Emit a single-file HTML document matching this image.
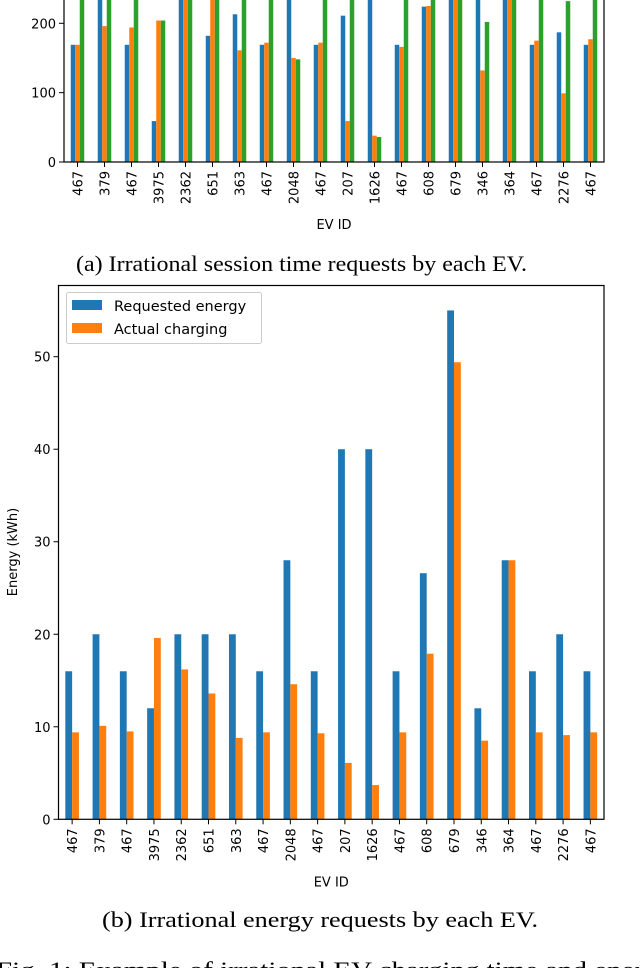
<!DOCTYPE html>
<html><head><meta charset="utf-8"><style>
html,body{margin:0;padding:0;background:#fff;}
svg{display:block;}
text{font-family:"DejaVu Sans","Liberation Sans",sans-serif;fill:#000;}
.cap{font-family:"Liberation Serif",serif;font-size:22px;}
</style></head><body>
<svg id="s" width="640" height="968" viewBox="0 0 640 968">
<text class="cap" x="76" y="271" textLength="451" lengthAdjust="spacingAndGlyphs">(a) Irrational session time requests by each EV.</text>
<text class="cap" x="102" y="927" textLength="436" lengthAdjust="spacingAndGlyphs">(b) Irrational energy requests by each EV.</text>
<text class="cap" x="-4" y="977" textLength="648" lengthAdjust="spacingAndGlyphs">Fig. 1: Example of irrational EV charging time and ener</text>
</svg>
<script>
const categories = ["467","379","467","3975","2362","651","363","467","2048","467","207","1626","467","608","679","346","364","467","2276","467"];
const timeBlue = [169,300,169,59,300,182,213,169,300,169,211,300,169,224,300,300,300,169,187,169];
const timeOrange = [169,196,194,204,300,300,161,172,150,172,59,38,166,225,300,132,300,175,99,177];
const timeGreen = [300,300,300,204,300,300,300,300,148,300,300,36,300,300,300,202,300,300,232,300];
const timeTicks = [0,100,200];
const energyRequested = [16,20,16,12,20,20,20,16,28,16,40,40,16,26.6,55,12,28,16,20,16];
const energyActual = [9.4,10.1,9.5,19.6,16.2,13.6,8.8,9.4,14.6,9.3,6.1,3.7,9.4,17.9,49.4,8.5,28,9.4,9.1,9.4];
const energyTicks = [0,10,20,30,40,50];

const NS="http://www.w3.org/2000/svg";
const svg=document.getElementById('s');
function mk(tag,attrs,parent){const e=document.createElementNS(NS,tag);for(const k in attrs)e.setAttribute(k,attrs[k]);(parent||svg).appendChild(e);return e;}
const COL=['#1f77b4','#ff7f0e','#2ca02c'];

function chart(o){
  const g=mk('g',{});
  
  
  const clipId=o.name+'-clip';
  const cp=mk('clipPath',{id:clipId},g);
  mk('rect',{x:o.x0,y:o.top,width:o.x1-o.x0,height:o.base-o.top},cp);
  const n=categories.length;
  const step=(o.x1-o.x0)/n;
  const xc=i=>o.x0+step*(i+0.5);
  const y=v=>o.base-v*(o.base-o.ymaxY)/o.ymax;
  const bw=step*0.5/o.series.length;
  const bars=mk('g',{'clip-path':'url(#'+clipId+')'},g);
  o.series.forEach((s,si)=>{
    s.forEach((v,i)=>{
      const x=xc(i)-step*0.25+si*bw;
      const r=mk('rect',{x:x,y:y(v),width:bw,height:o.base-y(v),fill:COL[si]},bars);
      
      
    });
  });
  mk('rect',{x:o.x0,y:o.top,width:o.x1-o.x0,height:o.base-o.top,fill:'none',stroke:'#000','stroke-width':1.2},g);
  o.ticks.forEach(t=>{
    const yy=y(t);
    mk('line',{x1:o.x0-5,x2:o.x0,y1:yy,y2:yy,stroke:'#000'},g);
    const tx=mk('text',{x:o.x0-8,y:yy+5,'text-anchor':'end','font-size':13},g);
    tx.textContent=t;
    
    
  });
  categories.forEach((c,i)=>{
    const xx=xc(i);
    mk('line',{x1:xx,x2:xx,y1:o.base,y2:o.base+5,stroke:'#000'},g);
    const tx=mk('text',{x:0,y:0,'text-anchor':'end','font-size':13,transform:'translate('+(xx+5)+','+(o.base+9)+') rotate(-90)'},g);
    tx.textContent=c;
    
    
  });
  const xl=mk('text',{x:(o.x0+o.x1)/2,y:o.base+67,'text-anchor':'middle','font-size':13},g);
  xl.textContent='EV ID';
  
  
  return {y};
}

chart({name:'time-chart',x0:64,x1:604,top:-5,base:162,ymax:200,ymaxY:23.3,ticks:timeTicks,series:[timeBlue,timeOrange,timeGreen],sname:['blue','orange','green']});
chart({name:'energy-chart',x0:58.5,x1:604,top:285.5,base:819.3,ymax:50,ymaxY:356.7,ticks:energyTicks,series:[energyRequested,energyActual],sname:['requested','actual']});

const yl=mk('text',{x:0,y:0,'text-anchor':'middle','font-size':13,transform:'translate(17,552) rotate(-90)'});
yl.textContent='Energy (kWh)';



const lg=mk('g',{});


mk('rect',{x:66.5,y:292.5,width:195,height:51,rx:2,fill:'#fff','fill-opacity':0.8,stroke:'#ccc'},lg);
[['Requested energy',COL[0]],['Actual charging',COL[1]]].forEach((e,i)=>{
  const it=mk('g',{},lg);
  
  
  mk('rect',{x:72,y:300+i*23,width:30,height:10,fill:e[1]},it);
  const t=mk('text',{x:114,y:311+i*23,'font-size':14.5},it);
  t.textContent=e[0];
});
</script>
</body></html>
